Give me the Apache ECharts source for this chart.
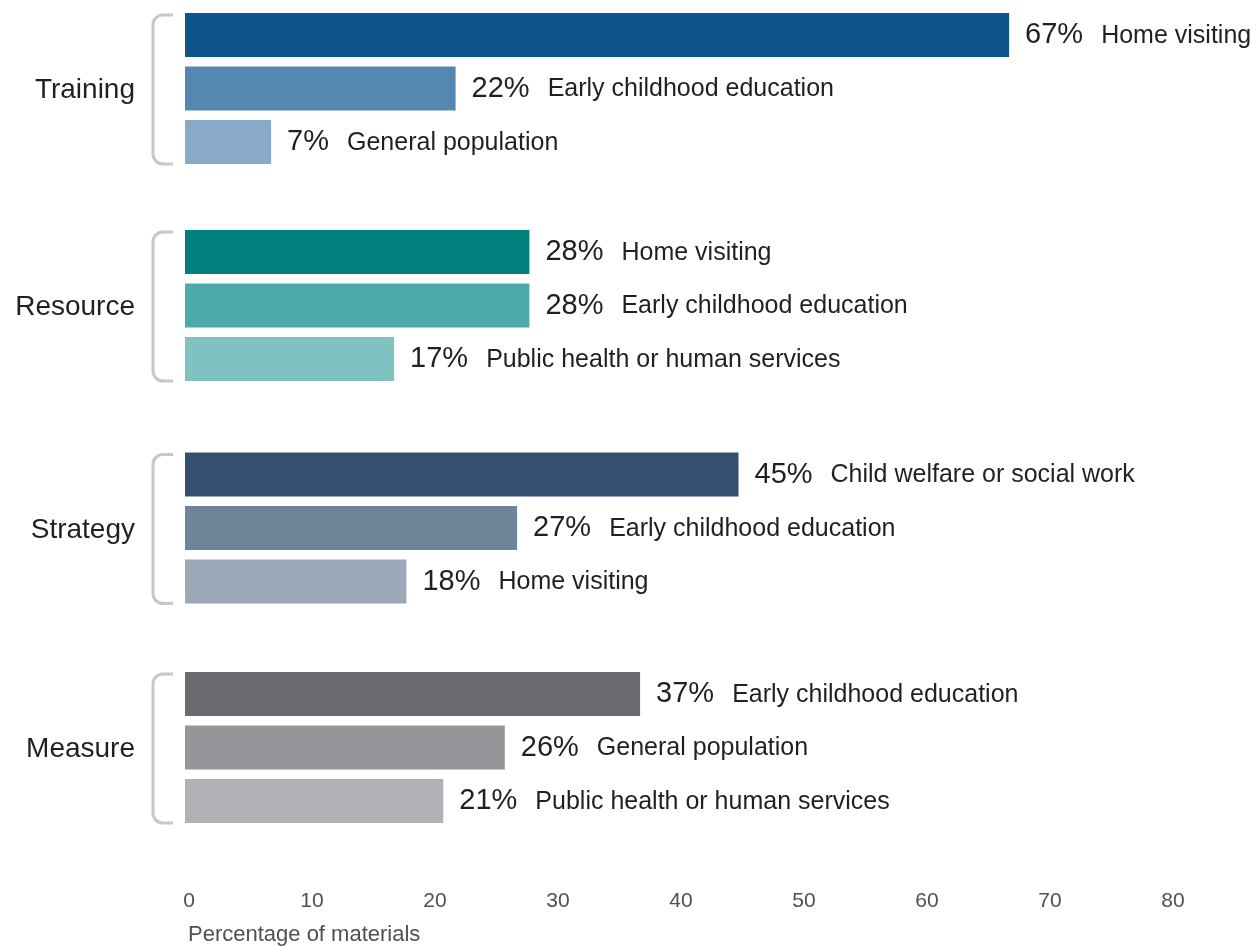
<!DOCTYPE html>
<html>
<head>
<meta charset="utf-8">
<style>
  html, body { margin: 0; padding: 0; background: #ffffff; }
  #chart { width: 1256px; height: 946px; }
</style>
<script src="https://cdn.jsdelivr.net/npm/echarts@6/dist/echarts.min.js"></script>
</head>
<body>
<div id="chart"></div>
<script>
// Material types (one panel each)
const groupNames = ['Training', 'Resource', 'Strategy', 'Measure'];

// Audience labels and shares (%) for each material type
const trainingAudiences = ['Home visiting', 'Early childhood education', 'General population'];
const trainingValues = [67, 22, 7];

const resourceAudiences = ['Home visiting', 'Early childhood education', 'Public health or human services'];
const resourceValues = [28, 28, 17];

const strategyAudiences = ['Child welfare or social work', 'Early childhood education', 'Home visiting'];
const strategyValues = [45, 27, 18];

const measureAudiences = ['Early childhood education', 'General population', 'Public health or human services'];
const measureValues = [37, 26, 21];

// Bar shades per material type, darkest first
const trainingColors = ['#0f538b', '#5587b0', '#88a9c7'];
const resourceColors = ['#00807d', '#4daaa8', '#80c2c1'];
const strategyColors = ['#34506e', '#6f8499', '#9aa8b7'];
const measureColors = ['#6a6b6f', '#959699', '#b1b2b5'];

// Horizontal axis
const xMin = 0;
const xMax = 80;
const xStep = 10;
const xAxisTitle = 'Percentage of materials';

const panels = [
  { audiences: trainingAudiences, values: trainingValues, colors: trainingColors },
  { audiences: resourceAudiences, values: resourceValues, colors: resourceColors },
  { audiences: strategyAudiences, values: strategyValues, colors: strategyColors },
  { audiences: measureAudiences, values: measureValues, colors: measureColors }
];

const FONT = '"Liberation Sans", Arial, Helvetica, sans-serif';
const TEXT = '#231f20';
const GRID_LEFT = 185;
const GRID_WIDTH = 984;
const ROW = 53.5;
const panelTops = [8.25, 225.25, 447.75, 667.25];

const chart = echarts.init(document.getElementById('chart'), null, { renderer: 'canvas' });

const grids = [], xAxes = [], yAxes = [], series = [];
panels.forEach((p, i) => {
  grids.push({ left: GRID_LEFT, width: GRID_WIDTH, top: panelTops[i], height: ROW * p.values.length });
  const last = i === panels.length - 1;
  xAxes.push({
    type: 'value', gridIndex: i, min: xMin, max: xMax, interval: xStep,
    show: last,
    axisLine: { show: false }, axisTick: { show: false }, splitLine: { show: false },
    axisLabel: { show: last, margin: 63, color: '#505050', fontSize: 21, fontFamily: FONT, padding: [0, 0, 0, 8] }
  });
  yAxes.push({
    type: 'category', gridIndex: i, inverse: true,
    data: p.audiences,
    axisLine: { show: false }, axisTick: { show: false }, axisLabel: { show: false }, splitLine: { show: false }
  });
  series.push({
    type: 'bar', xAxisIndex: i, yAxisIndex: i,
    barWidth: 44,
    silent: true,
    animation: false,
    data: p.values.map((v, k) => ({
      value: v,
      itemStyle: { color: p.colors[k] },
      label: {
        show: true, position: 'right', distance: 16,
        formatter: '{v|' + v + '%}{c|' + p.audiences[k] + '}',
        rich: {
          v: { fontSize: 29, color: TEXT, fontFamily: FONT, verticalAlign: 'bottom' },
          c: { fontSize: 25, color: TEXT, fontFamily: FONT, padding: [0, 0, 1, 18], verticalAlign: 'bottom' }
        }
      }
    }))
  });
});

chart.setOption({
  backgroundColor: '#ffffff',
  animation: false,
  grid: grids,
  xAxis: xAxes,
  yAxis: yAxes,
  series: series
});

// Brackets and panel names, placed from the axes' own pixel positions
const BRACKET = { stroke: '#c6c7c9', lineWidth: 3, fill: null };
const graphics = [];
panels.forEach((p, i) => {
  const yFirst = chart.convertToPixel({ yAxisIndex: i }, p.audiences[0]);
  const yLast = chart.convertToPixel({ yAxisIndex: i }, p.audiences[p.audiences.length - 1]);
  const yMid = (yFirst + yLast) / 2;
  const x0 = chart.convertToPixel({ xAxisIndex: i }, xMin);
  const top = yFirst - 20;
  const bot = yLast + 22;
  const vx = x0 - 32, hx = x0 - 12, r = 10;
  graphics.push(
    { type: 'line', silent: true, shape: { x1: vx + r, y1: top, x2: hx, y2: top }, style: BRACKET },
    { type: 'arc', silent: true, shape: { cx: vx + r, cy: top + r, r: r, startAngle: Math.PI, endAngle: Math.PI * 1.5, clockwise: true }, style: BRACKET },
    { type: 'line', silent: true, shape: { x1: vx, y1: top + r, x2: vx, y2: bot - r }, style: BRACKET },
    { type: 'arc', silent: true, shape: { cx: vx + r, cy: bot - r, r: r, startAngle: Math.PI / 2, endAngle: Math.PI, clockwise: true }, style: BRACKET },
    { type: 'line', silent: true, shape: { x1: vx + r, y1: bot, x2: hx, y2: bot }, style: BRACKET }
  );
  graphics.push({
    type: 'text', silent: true,
    x: x0 - 50, y: yMid + 2,
    style: {
      text: groupNames[i], fill: TEXT, font: '28px ' + FONT,
      textAlign: 'right', textVerticalAlign: 'middle'
    }
  });
});
const axisX0 = chart.convertToPixel({ xAxisIndex: panels.length - 1 }, xMin);
graphics.push({
  type: 'text', silent: true,
  x: axisX0 + 3, y: 935,
  style: {
    text: xAxisTitle, fill: '#505050', font: '22px ' + FONT,
    textAlign: 'left', textVerticalAlign: 'middle'
  }
});
chart.setOption({ graphic: graphics });
</script>
</body>
</html>
